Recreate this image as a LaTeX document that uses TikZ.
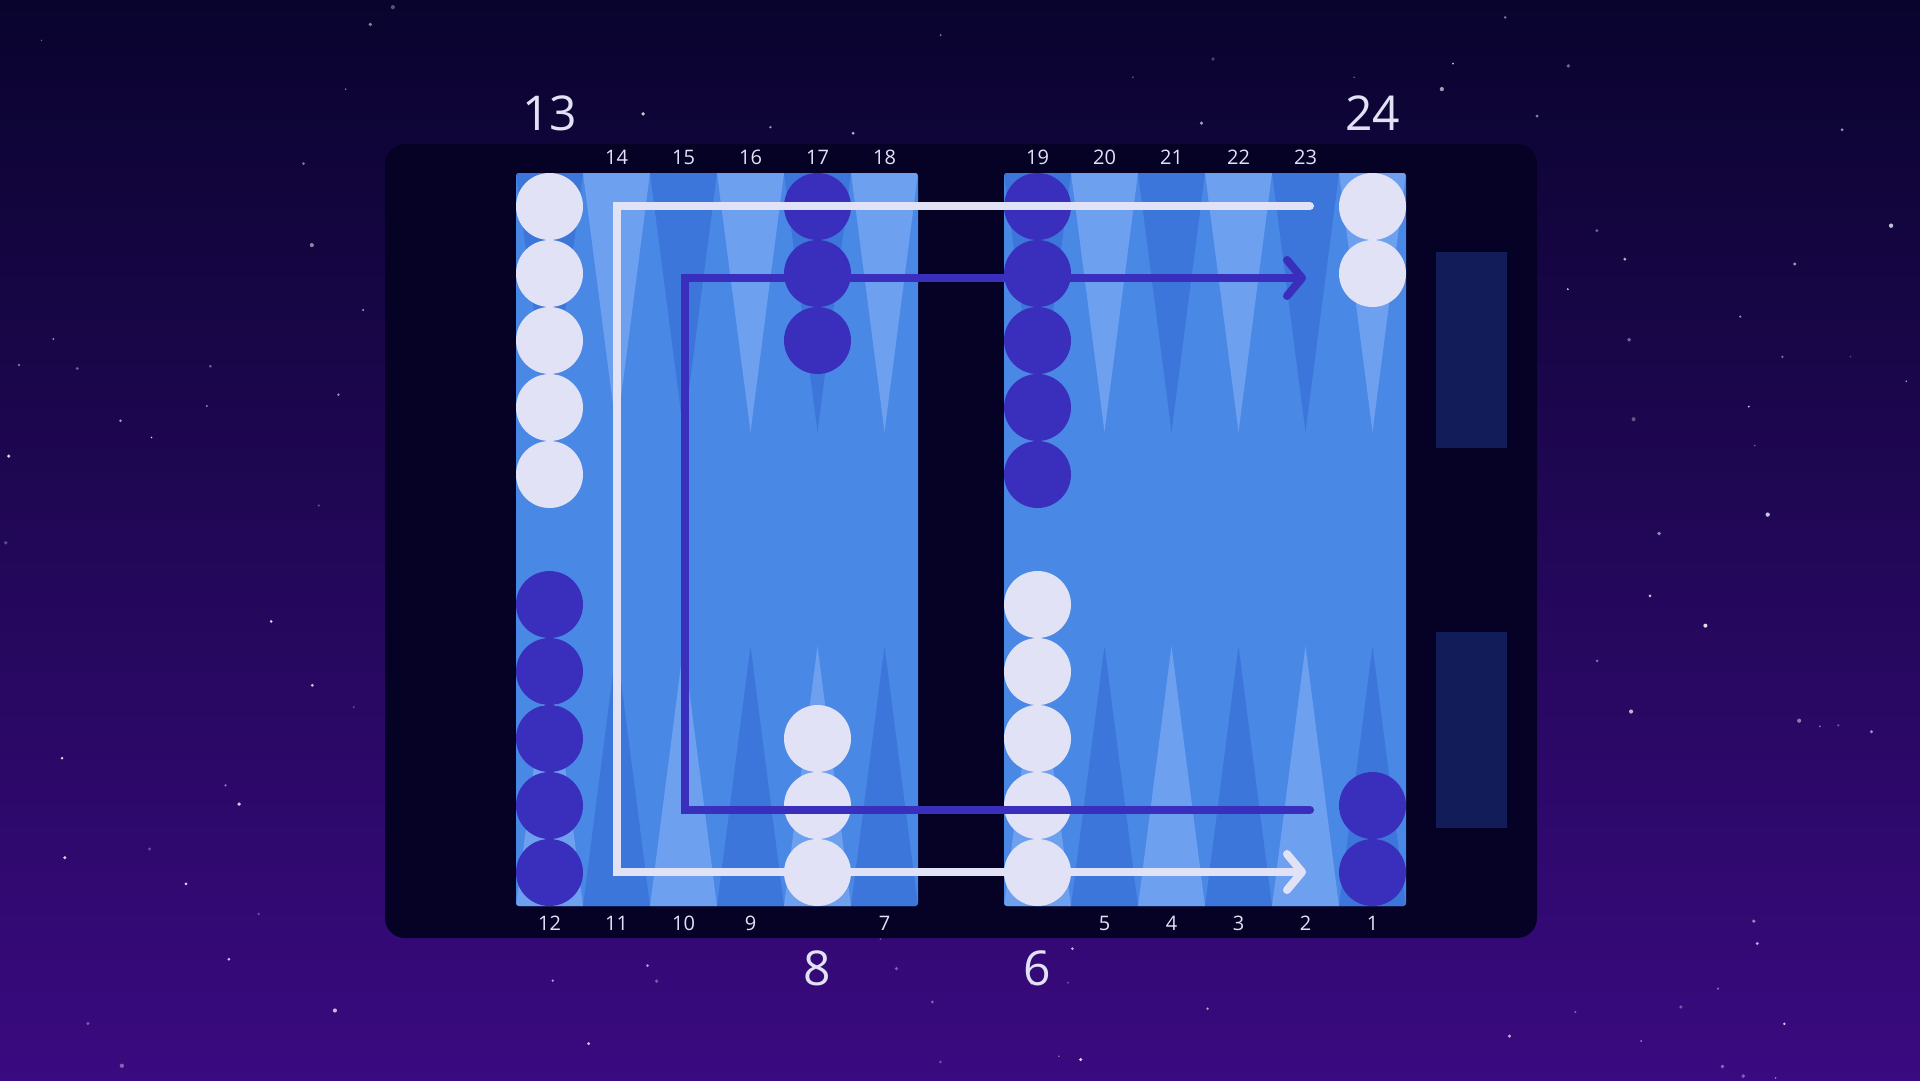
\documentclass[tikz,border=0pt]{standalone}
\usepackage{fontspec}
\setmainfont{Open Sans}
\usepackage{tikz}
\usetikzlibrary{arrows.meta, positioning, calc}
\usepackage{xcolor}
\definecolor{skytop}{RGB}{9, 4, 46}
\definecolor{skybot}{RGB}{58, 10, 128}
\definecolor{boardbg}{RGB}{5, 2, 38}
\definecolor{feltblue}{RGB}{74, 136, 230}
\definecolor{pointlight}{RGB}{110, 160, 240}
\definecolor{pointdark}{RGB}{60, 118, 218}
\definecolor{stonewhite}{RGB}{225, 226, 245}
\definecolor{stonedark}{RGB}{58, 47, 188}
\definecolor{traynavy}{RGB}{18, 28, 88}

\begin{document}
\begin{tikzpicture}[
        x=1pt, y=-1pt,
        whitestone/.style={circle, fill=stonewhite, minimum size=67pt, inner sep=0pt},
        darkstone/.style={circle, fill=stonedark, minimum size=67pt, inner sep=0pt},
        ptnum/.style={text=stonewhite, font=\fontsize{20}{20}\selectfont, inner sep=0pt},
        bignum/.style={text=stonewhite, font=\fontsize{48}{48}\selectfont, inner sep=0pt},
        moveline/.style={line width=8pt, line cap=round, line join=miter,
                         -{Straight Barb[length=15pt, width=36pt, round]}},
      ]
        % sky and stars
        \useasboundingbox (0,0) rectangle (1920,1080);
        \clip (0,0) rectangle (1920,1080);
        \shade[top color=skytop, bottom color=skybot] (0,0) rectangle (1920,1080);
        \pgfmathsetseed{4217}
        \foreach \s in {1,...,170} {
          \pgfmathsetmacro\sx{rnd*1920}
          \pgfmathsetmacro\sy{rnd*1080}
          \pgfmathsetmacro\sr{0.7+rnd*1.5}
          \pgfmathsetmacro\so{0.25+rnd*0.6}
          \fill[white, opacity=\so] (\sx,\sy) circle (\sr);
        }

        % board, felt and trays
        \fill[boardbg, rounded corners=20pt] (385,144) rectangle (1537,938);
        \fill[feltblue, rounded corners=3pt] (516,173) rectangle (918,906);
        \fill[feltblue, rounded corners=3pt] (1004,173) rectangle (1406,906);
        \fill[traynavy] (1436,252) rectangle (1507,448);
        \fill[traynavy] (1436,632) rectangle (1507,828);

        % points
        \begin{scope}
          \clip[rounded corners=3pt] (516,173) rectangle (918,906)
                                     (1004,173) rectangle (1406,906);
          \foreach \hx in {516,1004} {
            \foreach \k in {0,...,5} {
              \pgfmathsetmacro\xl{\hx+67*\k}
              \ifodd\k \def\topc{pointlight}\def\botc{pointdark}
              \else \def\topc{pointdark}\def\botc{pointlight}\fi
              \fill[\topc] (\xl,173) -- ++(67,0) -- ++(-33.5,259) -- cycle;
              \fill[\botc] (\xl,906) -- ++(67,0) -- ++(-33.5,-260) -- cycle;
            }
          }
        \end{scope}

        % checkers
        \foreach \i in {0,...,4} {
          \node[whitestone] (p13-\i) at (549.5,{206.5+67*\i}) {};
          \node[darkstone] (p12-\i) at (549.5,{872.5-67*\i}) {};
          \node[darkstone] (p19-\i) at (1037.5,{206.5+67*\i}) {};
          \node[whitestone] (p6-\i) at (1037.5,{872.5-67*\i}) {};
        }
        \foreach \i in {0,...,2} {
          \node[darkstone] (p17-\i) at (817.5,{206.5+67*\i}) {};
          \node[whitestone] (p8-\i) at (817.5,{872.5-67*\i}) {};
        }
        \foreach \i in {0,1} {
          \node[whitestone] (p24-\i) at (1372.5,{206.5+67*\i}) {};
          \node[darkstone] (p1-\i) at (1372.5,{872.5-67*\i}) {};
        }

        % point numbers
        \foreach \n/\px in {14/616.5, 15/683.5, 16/750.5, 17/817.5, 18/884.5,
                            19/1037.5, 20/1104.5, 21/1171.5, 22/1238.5, 23/1305.5}
          \node[ptnum] (top\n) at (\px,157) {\n};
        \foreach \n/\px in {12/549.5, 11/616.5, 10/683.5, 9/750.5, 7/884.5,
                            5/1104.5, 4/1171.5, 3/1238.5, 2/1305.5, 1/1372.5}
          \node[ptnum] (bot\n) at (\px,923) {\n};
        \node[bignum] (big13) at (549.5,113) {13};
        \node[bignum] (big24) at (1372.5,113) {24};
        \node[bignum] (big8) at (817.5,968) {8};
        \node[bignum] (big6) at (1037.5,968) {6};

        % moves
        \coordinate (wfrom) at (1310,206);
        \coordinate (wturn1) at (617,206);
        \coordinate (wturn2) at (617,872);
        \coordinate (wto) at (1306,872);
        \coordinate (dfrom) at (1310,810);
        \coordinate (dturn1) at (685,810);
        \coordinate (dturn2) at (685,278);
        \coordinate (dto) at (1306,278);
        \draw[moveline, stonewhite] (wfrom) -- (wturn1) -- (wturn2) -- (wto);
        \draw[moveline, stonedark] (dfrom) -- (dturn1) -- (dturn2) -- (dto);
      \end{tikzpicture}
\end{document}
